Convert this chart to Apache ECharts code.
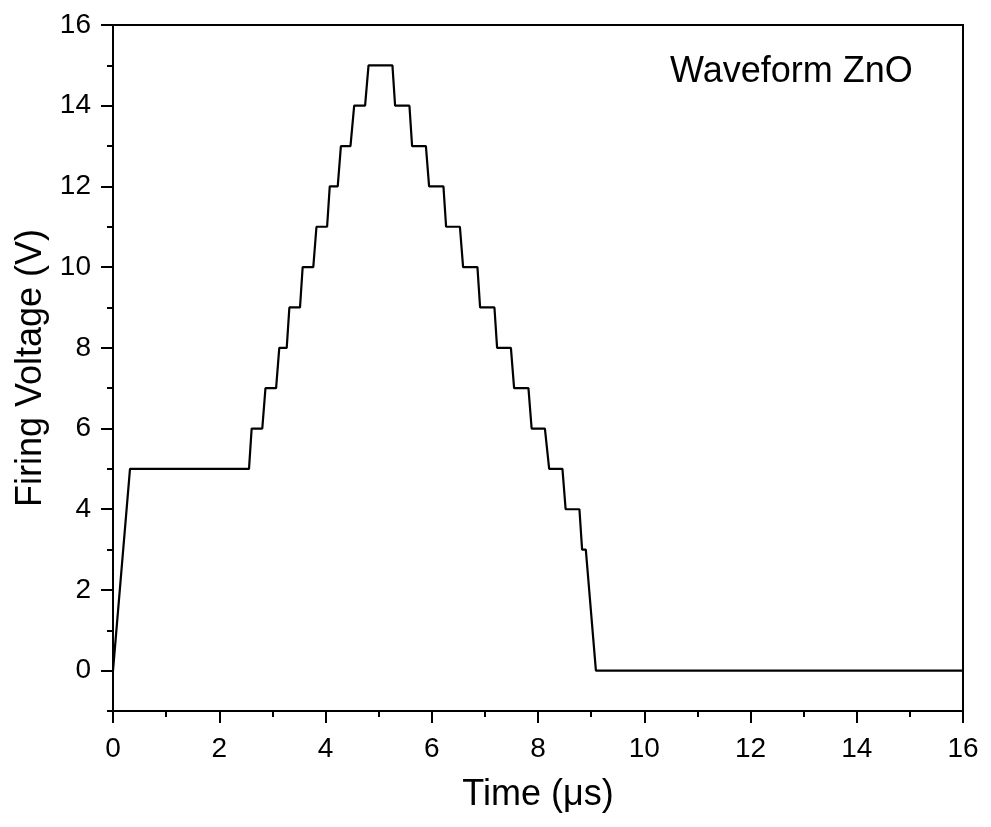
<!DOCTYPE html>
<html>
<head>
<meta charset="utf-8">
<script src="https://cdn.jsdelivr.net/npm/echarts@6/dist/echarts.min.js"></script>
<style>html,body{margin:0;padding:0;background:#fff}#c{width:991px;height:827px}</style>
</head>
<body>
<div id="c"></div>
<script>
// Data
const timeUs = [0, 0.32, 2.56, 2.61, 2.81, 2.87, 3.07, 3.13, 3.27, 3.32, 3.52, 3.57, 3.77, 3.83, 4.03, 4.08, 4.23, 4.29, 4.47, 4.54, 4.745, 4.81, 5.26, 5.31, 5.58, 5.63, 5.89, 5.95, 6.22, 6.27, 6.53, 6.59, 6.86, 6.91, 7.18, 7.23, 7.49, 7.55, 7.82, 7.88, 8.13, 8.21, 8.46, 8.52, 8.78, 8.83, 8.90, 9.09, 16];
const voltage = [0, 5, 5, 6, 6, 7, 7, 8, 8, 9, 9, 10, 10, 11, 11, 12, 12, 13, 13, 14, 14, 15, 15, 14, 14, 13, 13, 12, 12, 11, 11, 10, 10, 9, 9, 8, 8, 7, 7, 6, 6, 5, 5, 4, 4, 3, 3, 0, 0];
const yMajorTicks = [0, 2, 4, 6, 8, 10, 12, 14, 16];
const yMinorTicks = [-1, 1, 3, 5, 7, 9, 11, 13, 15];
const xAxisTitle = 'Time (μs)';
const yAxisTitle = 'Firing Voltage (V)';
const annotation = 'Waveform ZnO';

const FONT = "'Liberation Sans', Arial, sans-serif";
const chart = echarts.init(document.getElementById('c'), null, {renderer: 'canvas'});
const pts = timeUs.map((t, i) => [t, voltage[i]]);

chart.setOption({
  animation: false,
  backgroundColor: '#fff',
  title: {
    text: annotation,
    left: 670, top: 54,
    padding: 0,
    textStyle: {fontFamily: FONT, fontSize: 36, fontWeight: 'normal', color: '#000'}
  },
  grid: {
    left: 113, right: 28, top: 25, bottom: 116,
    show: true, borderColor: '#000', borderWidth: 2, backgroundColor: 'transparent'
  },
  xAxis: {
    type: 'value', min: 0, max: 16, interval: 2,
    name: xAxisTitle, nameLocation: 'middle', nameGap: 66,
    nameTextStyle: {fontFamily: FONT, fontSize: 36, color: '#000'},
    axisLine: {show: true, onZero: false, lineStyle: {color: '#000', width: 2}},
    axisTick: {show: true, inside: false, length: 12, lineStyle: {color: '#000', width: 2}},
    minorTick: {show: true, splitNumber: 2, length: 6, lineStyle: {color: '#000', width: 2}},
    splitLine: {show: false},
    axisLabel: {fontFamily: FONT, fontSize: 28, color: '#000', margin: 24}
  },
  yAxis: [{
    type: 'value', min: -1, max: 16,
    name: yAxisTitle, nameLocation: 'middle', nameGap: 64,
    nameTextStyle: {fontFamily: FONT, fontSize: 36, color: '#000'},
    axisLine: {show: true, onZero: false, lineStyle: {color: '#000', width: 2}},
    axisTick: {show: true, inside: false, length: 12, customValues: yMajorTicks, lineStyle: {color: '#000', width: 2}},
    splitLine: {show: false},
    axisLabel: {fontFamily: FONT, fontSize: 28, color: '#000', margin: 22, customValues: yMajorTicks}
  }, {
    type: 'value', min: -1, max: 16, position: 'left',
    axisLine: {show: false},
    axisTick: {show: true, inside: false, length: 6, customValues: yMinorTicks, lineStyle: {color: '#000', width: 2}},
    splitLine: {show: false},
    axisLabel: {show: false}
  }],
  series: [{
    type: 'line',
    data: pts,
    showSymbol: false,
    lineStyle: {color: '#000', width: 2.2},
    clip: true
  }]
});
</script>
</body>
</html>
